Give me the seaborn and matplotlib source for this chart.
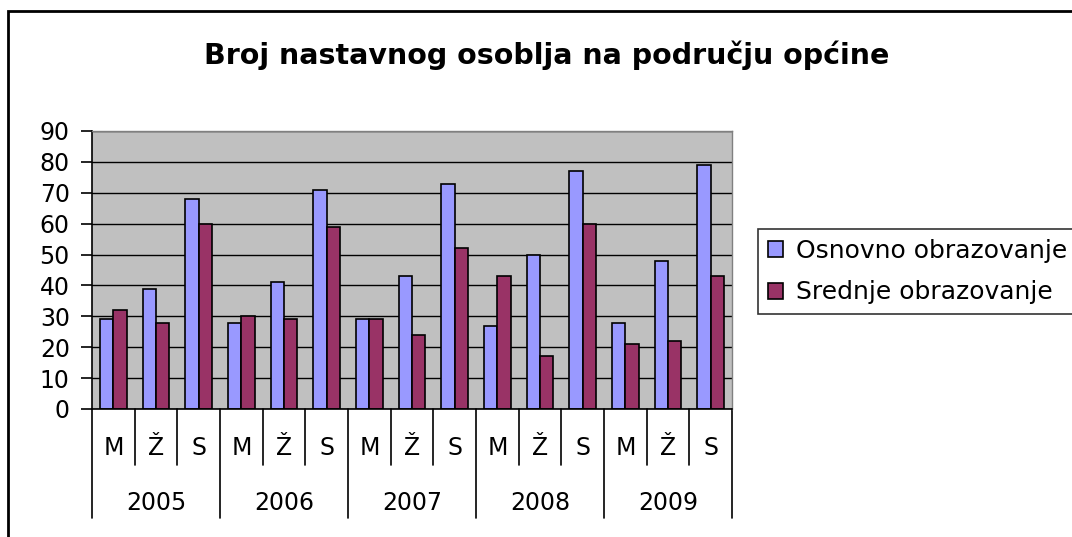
import numpy as np
import pandas as pd
import matplotlib
matplotlib.use("Agg")
import matplotlib.pyplot as plt
import seaborn as sns
from matplotlib.patches import Rectangle

years = ["2005", "2006", "2007", "2008", "2009"]
groups = ["M", "Ž", "S"]
series = ["Osnovno obrazovanje", "Srednje obrazovanje"]
osnovno = [29, 39, 68, 28, 41, 71, 29, 43, 73, 27, 50, 77, 28, 48, 79]
srednje = [32, 28, 60, 30, 29, 59, 29, 24, 52, 43, 17, 60, 21, 22, 43]
colors = ["#9999FF", "#993366"]

cats = [f"{y} {g}" for y in years for g in groups]
df = pd.DataFrame({
    "cat": cats * 2,
    "value": osnovno + srednje,
    "series": [series[0]] * len(cats) + [series[1]] * len(cats),
})

sns.set_style("white")
plt.rcParams["font.family"] = ["DejaVu Sans"]
plt.rcParams["text.color"] = "black"
plt.rcParams["ytick.color"] = "black"
plt.rcParams["ytick.labelcolor"] = "black"

W, H = 1072, 537
fig = plt.figure(figsize=(W / 100, H / 100), dpi=100)
ax = fig.add_axes([92 / W, 1 - 409 / H, 640 / W, 278 / H])

sns.barplot(data=df, x="cat", y="value", hue="series", order=cats,
            hue_order=series, palette=colors, saturation=1, width=0.63,
            edgecolor="black", linewidth=1.2, ax=ax, legend=True)

ax.set_facecolor("#C0C0C0")
ax.set_ylim(0, 90)
ax.set_xlim(-0.5, len(cats) - 0.5)
ax.set_yticks(range(0, 91, 10))
ax.yaxis.grid(True, color="black", linewidth=1)
ax.set_axisbelow(True)
ax.set_xlabel("")
ax.set_ylabel("")
ax.set_xticks([])
ax.tick_params(axis="y", left=True, length=8, width=1.2, color="black",
               labelcolor="black", labelsize=17, pad=8, direction="out")
for s in ["top", "right"]:
    ax.spines[s].set_color("#808080")
    ax.spines[s].set_linewidth(1)
for s in ["left", "bottom"]:
    ax.spines[s].set_color("black")
    ax.spines[s].set_linewidth(1.2)

# category axis: separators and labels
tr = ax.get_xaxis_transform()
for i in range(len(cats) + 1):
    xb = i - 0.5
    depth = -109 / 278 if i % 3 == 0 else -56 / 278
    ax.plot([xb, xb], [0, depth], transform=tr, color="black", lw=1.2,
            clip_on=False)
for i, c in enumerate(cats):
    ax.text(i, -39 / 278, c.split(" ")[1], transform=tr, ha="center",
            va="center", fontsize=17, color="black")
for j, y in enumerate(years):
    ax.text(j * 3 + 1, -94 / 278, y, transform=tr, ha="center", va="center",
            fontsize=17, color="black")

# legend
handles, labels = ax.get_legend_handles_labels()
ax.legend_.remove()
leg = fig.legend(handles, labels, loc="upper left",
                 bbox_to_anchor=(758 / W, 1 - 229 / H), frameon=True,
                 fancybox=False, edgecolor="black", fontsize=18,
                 handlelength=0.6, handleheight=0.6, handletextpad=0.5,
                 borderpad=0.4, labelspacing=0.7, borderaxespad=0)
leg.get_frame().set_linewidth(1.2)
for t in leg.get_texts():
    t.set_color("black")
for h in leg.legend_handles:
    h.set_edgecolor("black")
    h.set_linewidth(1.2)

fig.text(547 / W, 1 - 55 / H, "Broj nastavnog osoblja na području općine",
         ha="center", va="center", fontsize=20.5, fontweight="bold",
         color="black")

fig.add_artist(Rectangle((8 / W, -0.1), 1.2, (1 - 11 / H) + 0.1,
                         transform=fig.transFigure, fill=False,
                         edgecolor="black", linewidth=2, clip_on=False))

fig.savefig("out.png", dpi=100)
